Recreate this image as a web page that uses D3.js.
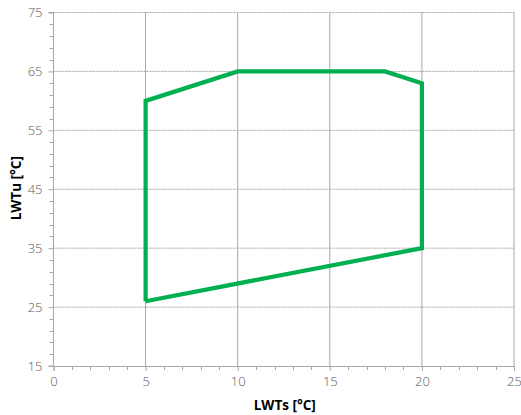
<!DOCTYPE html>
<html><head><meta charset="utf-8">
<script src="https://cdn.jsdelivr.net/npm/d3@7"></script>
<style>body{margin:0;background:#fff}svg{display:block}</style>
</head><body>
<script>
const lwts = [5, 5, 10, 18, 20, 20, 5];
const lwtu = [26, 60, 65, 65, 63, 35, 26];
const xTicks = [0, 5, 10, 15, 20, 25];
const yTicks = [15, 25, 35, 45, 55, 65, 75];
const xLabel = "LWTs [°C]";
const yLabel = "LWTu [°C]";

const W = 521, H = 415;
const m = {l: 53.5, r: 7, t: 12.5, b: 49};
const svg = d3.select("body").append("svg").attr("width", W).attr("height", H);
const x = d3.scaleLinear().domain([0, 25]).range([m.l, W - m.r]);
const y = d3.scaleLinear().domain([15, 75]).range([H - m.b, m.t]);
const font = "'Open Sans', 'Segoe UI', sans-serif";

// vertical grid (solid)
svg.append("g").selectAll("line").data(xTicks.slice(1)).join("line")
  .attr("x1", d => x(d)).attr("x2", d => x(d))
  .attr("y1", y(15)).attr("y2", y(75))
  .attr("stroke", "#a6a6a6").attr("stroke-width", 1);
// horizontal grid (dotted)
svg.append("g").selectAll("line").data(yTicks.slice(1)).join("line")
  .attr("x1", x(0)).attr("x2", x(25))
  .attr("y1", d => y(d)).attr("y2", d => y(d))
  .attr("stroke", "#a6a6a6").attr("stroke-width", 1).attr("stroke-dasharray", "2,1");

// y axis
const yAxis = d3.axisLeft(y).tickValues(yTicks).tickSize(5).tickPadding(6);
const gy = svg.append("g").attr("transform", `translate(${x(0)},0)`).call(yAxis);
const yMinor = d3.range(15, 75.01, 2).filter(v => (v - 15) % 10 !== 0);
svg.append("g").selectAll("line").data(yMinor).join("line")
  .attr("x1", x(0) - 4).attr("x2", x(0))
  .attr("y1", d => Math.round(y(d)) + 0.5).attr("y2", d => Math.round(y(d)) + 0.5)
  .attr("stroke", "#a6a6a6");

// x axis
const xAxis = d3.axisBottom(x).tickValues(xTicks).tickSize(5).tickPadding(6);
const gx = svg.append("g").attr("transform", `translate(0,${y(15)})`).call(xAxis);
const xMinor = d3.range(0, 25.01, 1).filter(v => v % 5 !== 0);
svg.append("g").selectAll("line").data(xMinor).join("line")
  .attr("x1", d => Math.round(x(d)) + 0.5).attr("x2", d => Math.round(x(d)) + 0.5)
  .attr("y1", y(15)).attr("y2", y(15) + 4)
  .attr("stroke", "#a6a6a6");

[gx, gy].forEach(g => {
  g.select(".domain").attr("stroke", "#a6a6a6");
  g.selectAll(".tick line").attr("stroke", "#a6a6a6");
  g.selectAll(".tick text").attr("fill", "#595959").attr("font-size", 13)
    .attr("font-family", font).attr("font-weight", 300);
});
gy.select(".domain").attr("d", `M-5,${y(15)}H0V${y(75)}H-5`);

// polygon
const line = d3.line().x((d, i) => x(lwts[i])).y((d, i) => y(lwtu[i]));
svg.append("path").datum(lwts).attr("d", line)
  .attr("fill", "none").attr("stroke", "#00b050").attr("stroke-width", 4.2)
  .attr("stroke-linejoin", "miter");

// labels
svg.append("text").attr("x", (x(0) + x(25)) / 2 + 1).attr("y", 410)
  .attr("text-anchor", "middle").attr("font-family", font).attr("font-weight", "bold")
  .attr("font-size", 13.5).attr("fill", "#000").text(xLabel);
svg.append("text").attr("transform", `translate(21,${(y(15) + y(75)) / 2 - 1}) rotate(-90)`)
  .attr("text-anchor", "middle").attr("font-family", font).attr("font-weight", "bold")
  .attr("font-size", 13.5).attr("fill", "#000").text(yLabel);
</script>
</body></html>
